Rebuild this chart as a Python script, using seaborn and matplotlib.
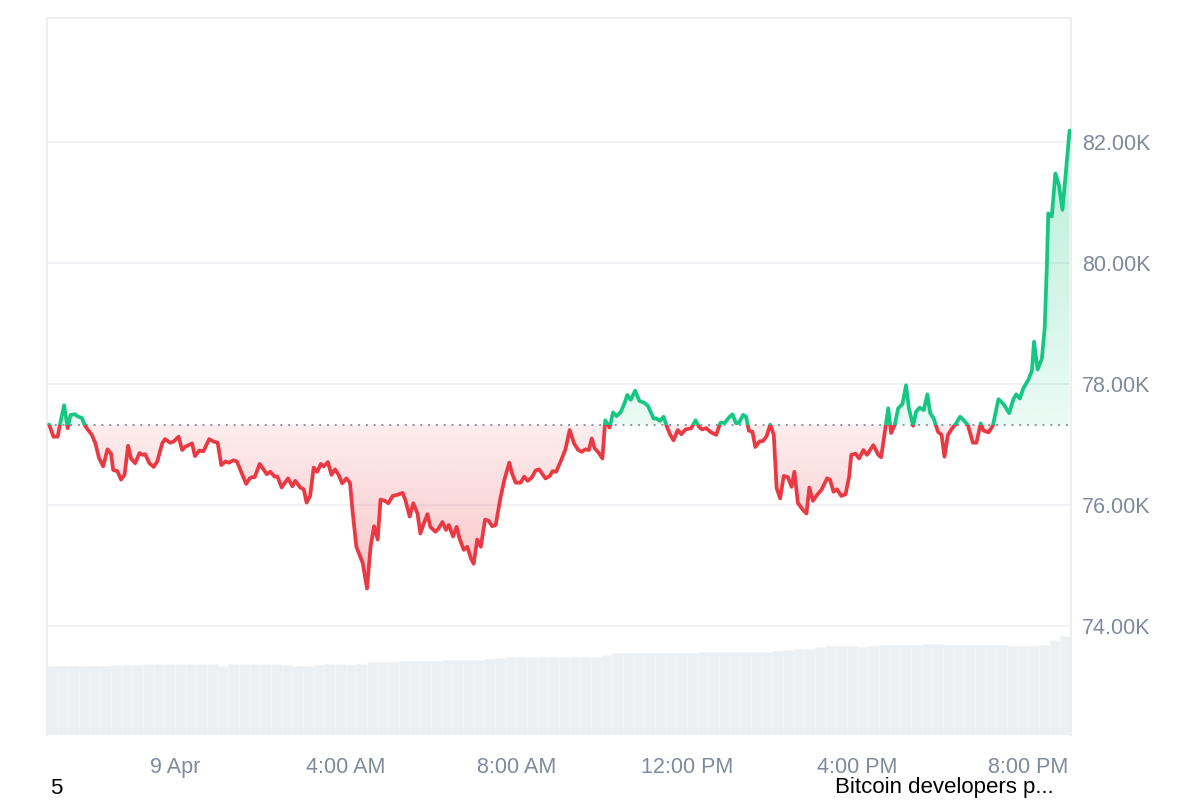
"""BTC 24h price chart (CoinMarketCap style) recreated with seaborn + matplotlib."""

import matplotlib.pyplot as plt
import matplotlib.transforms as mtransforms
import matplotlib.dates as mdates
import numpy as np
import pandas as pd
import seaborn as sns
from matplotlib.colors import to_rgb
from matplotlib.path import Path
from matplotlib.patches import Rectangle
from matplotlib.ticker import FuncFormatter

sns.set_theme(style="white")
plt.rcParams["font.family"] = ["Liberation Sans", "DejaVu Sans"]

# --- data -------------------------------------------------------------------
START = pd.Timestamp("2025-04-08 21:00")
BASE_PRICE = 77330  # opening price of the window (dotted reference line)

# minutes after START
minutes = [
    3, 9, 15, 18, 24, 29, 33, 39, 44, 49,
    53, 57, 63, 68, 73, 79, 85, 90, 93, 99,
    104, 109, 114, 118, 124, 130, 134, 138, 144, 150,
    155, 162, 166, 173, 178, 185, 190, 194, 204, 208,
    214, 220, 228, 234, 240, 245, 251, 256, 262, 267,
    274, 280, 285, 288, 292, 299, 305, 309, 314, 320,
    324, 330, 334, 339, 345, 349, 356, 361, 365, 370,
    375, 380, 385, 389, 395, 400, 405, 410, 415, 421,
    426, 430, 435, 440, 444, 450, 455, 460, 465, 469,
    475, 480, 486, 493, 500, 504, 510, 515, 521, 525,
    530, 535, 539, 546, 550, 556, 561, 565, 571, 576,
    580, 586, 591, 596, 600, 605, 610, 616, 621, 626,
    631, 637, 643, 650, 654, 659, 666, 671, 676, 682,
    687, 692, 701, 707, 711, 716, 723, 729, 735, 741,
    747, 752, 757, 762, 766, 770, 776, 781, 785, 791,
    796, 801, 807, 812, 816, 821, 827, 833, 840, 845,
    853, 857, 862, 867, 871, 876, 881, 887, 892, 898,
    906, 912, 917, 921, 927, 934, 941, 947, 953, 960,
    964, 969, 973, 979, 983, 987, 992, 996, 1002, 1007,
    1012, 1017, 1022, 1026, 1031, 1036, 1042, 1047, 1051, 1056,
    1063, 1068, 1072, 1077, 1083, 1089, 1097, 1101, 1106, 1111,
    1117, 1123, 1128, 1131, 1137, 1142, 1148, 1153, 1162, 1169,
    1173, 1183, 1187, 1192, 1197, 1203, 1208, 1212, 1218, 1222,
    1227, 1233, 1238, 1242, 1247, 1253, 1258, 1262, 1267, 1273,
    1278, 1284, 1291, 1295, 1302, 1307, 1313, 1317, 1324, 1330,
    1338, 1345, 1353, 1359, 1363, 1368, 1373, 1380, 1385, 1388,
    1393, 1399, 1403, 1406, 1408, 1413, 1418, 1423, 1428, 1433, 1438,
]

price = [
    77330, 77130, 77130, 77320, 77650, 77270, 77490, 77500, 77460, 77440,
    77320, 77250, 77160, 77020, 76780, 76640, 76920, 76850, 76580, 76560,
    76420, 76500, 76980, 76770, 76690, 76860, 76830, 76840, 76690, 76630,
    76720, 77020, 77090, 77030, 77050, 77130, 76910, 76960, 77020, 76810,
    76900, 76890, 77090, 77050, 77030, 76660, 76720, 76700, 76740, 76720,
    76520, 76350, 76440, 76460, 76460, 76680, 76580, 76510, 76550, 76470,
    76470, 76290, 76360, 76440, 76310, 76400, 76290, 76260, 76040, 76150,
    76620, 76550, 76680, 76640, 76710, 76500, 76590, 76500, 76360, 76440,
    76370, 75860, 75310, 75160, 75040, 74620, 75310, 75650, 75430, 76090,
    76070, 76030, 76150, 76170, 76200, 76080, 75810, 76030, 75860, 75530,
    75700, 75850, 75640, 75560, 75600, 75720, 75590, 75670, 75480, 75640,
    75450, 75260, 75310, 75120, 75030, 75430, 75310, 75760, 75740, 75650,
    75670, 76080, 76410, 76700, 76520, 76370, 76370, 76470, 76400, 76460,
    76570, 76590, 76440, 76480, 76560, 76550, 76740, 76920, 77240, 77020,
    76910, 76880, 76920, 76910, 77100, 76940, 76860, 76770, 77400, 77280,
    77530, 77470, 77540, 77680, 77820, 77740, 77890, 77720, 77690, 77640,
    77430, 77430, 77390, 77460, 77320, 77170, 77070, 77240, 77170, 77250,
    77270, 77400, 77290, 77250, 77270, 77200, 77160, 77360, 77360, 77460,
    77500, 77350, 77360, 77490, 77460, 77230, 77210, 76960, 77050, 77060,
    77140, 77330, 77160, 76280, 76110, 76480, 76460, 76300, 76550, 76030,
    75920, 75860, 76290, 76070, 76170, 76250, 76440, 76420, 76220, 76260,
    76150, 76180, 76470, 76830, 76850, 76770, 76910, 76830, 76990, 76830,
    76790, 77600, 77190, 77320, 77600, 77670, 77980, 77600, 77310, 77540,
    77610, 77570, 77830, 77520, 77430, 77210, 77160, 76800, 77160, 77270,
    77340, 77460, 77380, 77320, 77030, 77030, 77350, 77230, 77200, 77310,
    77750, 77670, 77520, 77750, 77830, 77760, 77930, 78070, 78220, 78700,
    78240, 78420, 78920, 79940, 80820, 80770, 81480, 81290, 80880, 81540, 82190,
]

# 24h volume (billions USD), one value per 15 minutes
volume = [
    34.5, 34.5, 34.5, 34.5, 34.5, 34.5, 35.0, 35.0, 35.0, 35.5,
    35.5, 35.5, 35.5, 35.5, 35.5, 35.5, 34.5, 35.5, 35.5, 35.5,
    35.5, 35.5, 35.0, 34.5, 34.5, 35.0, 35.5, 35.5, 35.0, 35.5,
    36.5, 36.5, 36.5, 37.0, 37.0, 37.0, 37.0, 37.5, 37.5, 37.5,
    37.5, 38.0, 38.5, 39.0, 39.0, 39.0, 39.0, 39.0, 39.0, 39.0,
    39.0, 39.0, 40.0, 41.0, 41.0, 41.0, 41.0, 41.0, 41.0, 41.0,
    41.0, 41.5, 41.5, 41.5, 41.5, 41.5, 41.5, 41.5, 42.0, 42.5,
    43.0, 43.0, 44.0, 44.5, 44.5, 44.5, 44.0, 44.5, 45.0, 45.0,
    45.0, 45.0, 45.5, 45.5, 45.0, 45.0, 45.0, 45.0, 45.0, 45.0,
    44.5, 44.5, 44.5, 45.0, 47.5, 49.5,
]

tick_hours = [3, 7, 11, 15, 19, 23]
tick_labels = ["9 Apr", "4:00 AM", "8:00 AM", "12:00 PM", "4:00 PM", "8:00 PM"]
y_ticks = [74000, 76000, 78000, 80000, 82000]

# --- style ------------------------------------------------------------------
GREEN = "#16c784"
RED = "#ea3943"
TICK_COLOR = "#808a9d"
GRID_COLOR = "#eff1f4"
VOL_COLOR = "#edf0f3"

df = pd.DataFrame({"time": START + pd.to_timedelta(minutes, unit="min"), "price": price})
vol_times = START + pd.to_timedelta(np.arange(len(volume)) * 15 + 7.5, unit="min")
x_end = START + pd.Timedelta(hours=24)


def _gradient_area(ax, x, y, base, far, color, where):
    """Area between y and base, filled with an alpha gradient growing away from base."""
    coll = ax.fill_between(x, y, base, where=where, interpolate=True,
                           facecolor="none", edgecolor="none")
    clip = Path.make_compound_path(*coll.get_paths())
    rgba = np.zeros((256, 1, 4))
    rgba[..., :3] = to_rgb(color)
    rgba[..., 3] = np.linspace(0.09, 0.30, 256)[:, None]
    lo, hi = sorted((base, far))
    origin = "lower" if far > base else "upper"
    x0, x1 = mdates.date2num(START), mdates.date2num(x_end)
    im = ax.imshow(rgba, extent=[x0, x1, lo, hi], origin=origin, aspect="auto",
                   interpolation="bilinear", zorder=1)
    im.set_clip_path(clip, transform=ax.transData)


fig, ax = plt.subplots(figsize=(12, 8), dpi=100)
fig.subplots_adjust(left=0.0392, right=0.8925, top=0.9775, bottom=0.0813)

# volume bars on a hidden twin axis, kept behind the price
ax2 = ax.twinx()
ax2.bar(vol_times, volume, width=15 / 1440, color=VOL_COLOR, edgecolor="#f3f5f7",
        linewidth=0.4)
ax2.set_ylim(0, 358.5)
ax2.set_yticks([])
for s in ax2.spines.values():
    s.set_visible(False)
ax.set_zorder(ax2.get_zorder() + 1)
ax.patch.set_visible(False)

# gradient areas
p = np.asarray(price, dtype=float)
_gradient_area(ax, df["time"], p, BASE_PRICE, min(price), RED, p <= BASE_PRICE)
_gradient_area(ax, df["time"], p, BASE_PRICE, max(price), GREEN, p >= BASE_PRICE)

# price line, green above / red below the opening price
blend = mtransforms.blended_transform_factory(ax.transAxes, ax.transData)
for color, y0 in [(GREEN, BASE_PRICE), (RED, BASE_PRICE - 1e6)]:
    sns.lineplot(data=df, x="time", y="price", color=color, linewidth=2.7, ax=ax, zorder=3)
    line = ax.lines[-1]
    line.set_solid_joinstyle("round")
    line.set_clip_path(Rectangle((0, y0), 1, 1e6, transform=blend))

ax.axhline(BASE_PRICE, color="#8e939c", lw=1.4, linestyle=(0, (1, 3)), zorder=2)

# axes
ax.set_xlim(START, x_end)
ax.set_ylim(72200, 84050)
ax.set_xticks([START + pd.Timedelta(hours=h) for h in tick_hours])
ax.set_xticklabels(tick_labels)
ax.set_yticks(y_ticks)
ax.yaxis.set_major_formatter(FuncFormatter(lambda v, _: f"{v / 1000:.2f}K"))
ax.yaxis.tick_right()
ax.tick_params(axis="both", length=0, labelsize=15.5, colors=TICK_COLOR)
ax.tick_params(axis="x", pad=16)
ax.tick_params(axis="y", pad=8)
ax.set_xlabel("")
ax.set_ylabel("")
ax.grid(axis="y", color=GRID_COLOR, lw=1.3)
ax.grid(axis="x", visible=False)
for side in ("left", "right", "top"):
    ax.spines[side].set_color("#eceef1")
    ax.spines[side].set_linewidth(1.4)
ax.spines["bottom"].set_visible(False)

# news markers below the axis
fig.text(50 / 1200, 1 - 788 / 800, "5", fontsize=16, color="black", va="center")
fig.text(835 / 1200, 1 - 788 / 800, "Bitcoin developers p...", fontsize=16,
         color="black", va="center")

fig.savefig("out.png")
plt.close(fig)
